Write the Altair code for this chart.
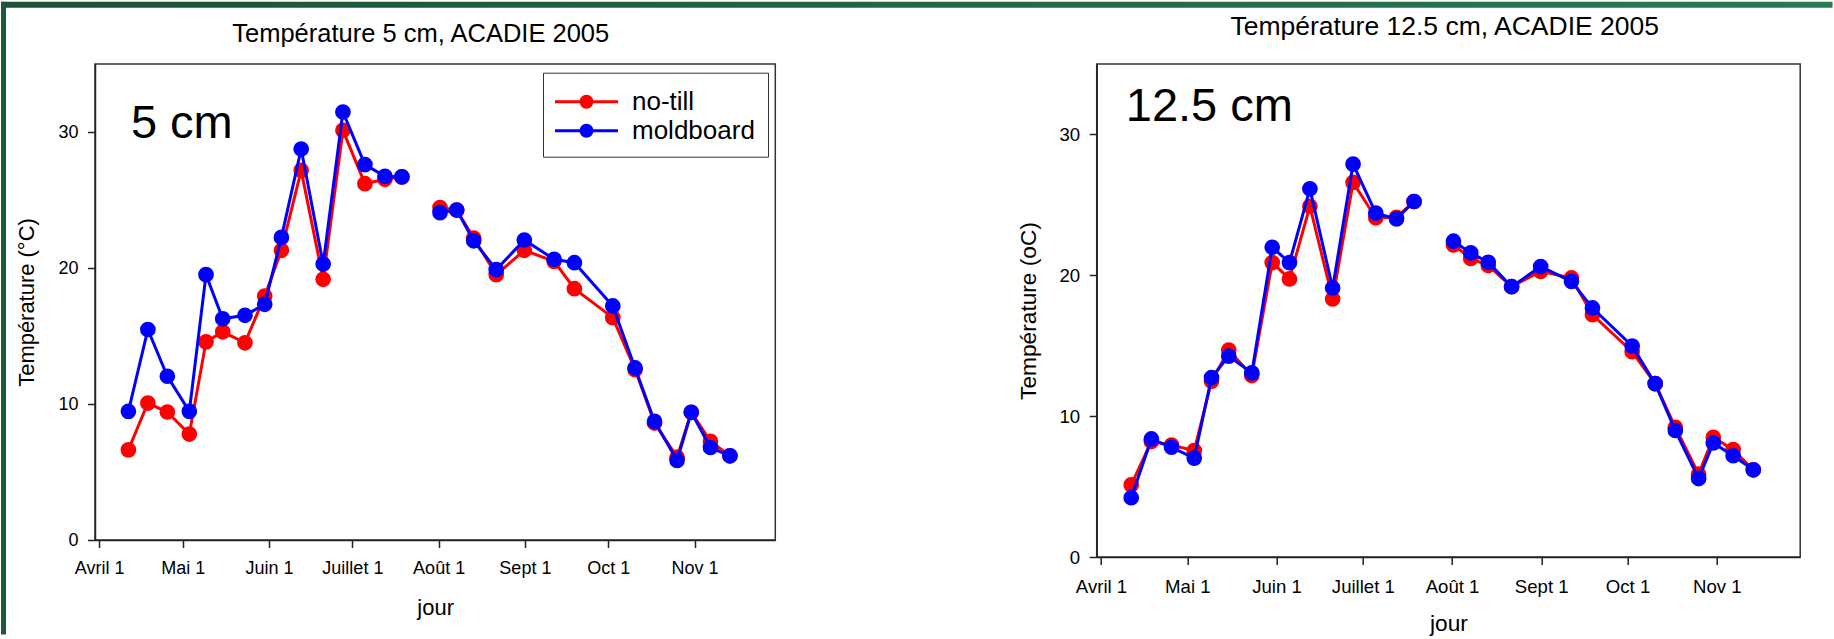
import json
import altair as alt
import pandas as pd

FONT = "Liberation Sans, Arial, Helvetica, sans-serif"

# ---- data ----
jours = [101.5, 108.5, 115.5, 123.4, 129.4, 135.4, 143.4, 150.5, 156.5, 163.6,
         171.5, 178.6, 186.5, 193.7, 199.8, 213.5, 219.5, 225.6, 233.7, 243.8,
         254.5, 261.8, 275.6, 283.6, 290.6, 298.7, 303.8, 310.7, 317.7]
# measurement campaign (line is broken between the two)
periode = [0] * 15 + [1] * 14

notill_5 = [6.63, 10.07, 9.41, 7.79, 14.57, 15.31, 14.5, 17.94, 21.3, 27.18,
            19.17, 30.12, 26.2, 26.52, 26.7, 24.44, 24.26, 22.2, 19.51, 21.3,
            20.49, 18.48, 16.35, 12.53, 8.6, 6.09, 9.39, 7.25, 6.19]
moldboard_5 = [9.46, 15.48, 12.04, 9.46, 19.51, 16.27, 16.52, 17.33, 22.25, 28.75,
               20.29, 31.47, 27.6, 26.74, 26.7, 24.07, 24.26, 22.0, 19.88, 22.06,
               20.64, 20.39, 17.21, 12.65, 8.72, 5.85, 9.39, 6.8, 6.19]

notill_125 = [5.12, 8.2, 7.95, 7.55, 12.48, 14.69, 12.88, 20.9, 19.74, 24.9,
              18.32, 26.59, 24.08, 24.12, 25.24, 22.16, 21.2, 20.69, 19.19, 20.28,
              19.81, 17.2, 14.57, 12.31, 9.21, 5.88, 8.5, 7.62, 6.19]
moldboard_125 = [4.21, 8.38, 7.79, 7.02, 12.74, 14.26, 13.07, 21.99, 20.9, 26.14,
                 19.1, 27.89, 24.41, 24.0, 25.24, 22.42, 21.59, 20.92, 19.19, 20.62,
                 19.57, 17.68, 14.98, 12.31, 8.98, 5.57, 8.1, 7.19, 6.19]

series_names = ["no-till", "moldboard"]
series_colors = ["#ff0000", "#0000ff"]

tick_days = [91, 121, 152, 182, 213, 244, 274, 305]
tick_names = ["Avril 1", "Mai 1", "Juin 1", "Juillet 1", "Août 1", "Sept 1", "Oct 1", "Nov 1"]
y_ticks = [0, 10, 20, 30]

x_domain = [89.5, 334]
y_domain = [0, 35]

label_expr = (json.dumps(tick_names, ensure_ascii=False) +
              "[indexof(" + json.dumps(tick_days) + ", datum.value)]")

# legend symbol: a line with a filled dot
LEG_PATH = ("M-1.1724,0L3.1724,0"
            "M1.3793,0A0.3793,0.3793,0,1,1,0.6207,0A0.3793,0.3793,0,1,1,1.3793,0Z")


def make_frame(a, b):
    rows = []
    for name, vals in zip(series_names, (a, b)):
        for d, v, s in zip(jours, vals, periode):
            rows.append({"jour": d, "temp": v, "serie": name, "seg": s})
    return pd.DataFrame(rows)


def text_layer(x, y, txt, pos, size, align):
    df = pd.DataFrame({"jour": [pos[0]], "temp": [pos[1]], "t": [txt]})
    return alt.Chart(df).mark_text(
        align=align, baseline="alphabetic", fontSize=size, font=FONT, color="black"
    ).encode(x=x, y=y, text="t:N")


def panel(df, w, h, fs, title, title_pos, t_size, ytitle, tag, tag_pos,
          y_pad, x_pad, x_tpad, with_legend, deco):
    ax_x = alt.Axis(values=tick_days, labelExpr=label_expr, title="jour", grid=False,
                    tickSize=7.5, labelPadding=x_pad, titlePadding=x_tpad,
                    labelFontSize=fs, titleFontSize=fs * 1.22, labelFlush=False,
                    labelOverlap=False)
    ax_y = alt.Axis(values=y_ticks, title=ytitle, grid=False, tickSize=7.5,
                    labelPadding=9.5, titlePadding=y_pad, labelFontSize=fs,
                    titleFontSize=fs * 1.22, format="d")
    x = alt.X("jour:Q", scale=alt.Scale(domain=x_domain, nice=False, zero=False), axis=ax_x)
    y = alt.Y("temp:Q", scale=alt.Scale(domain=y_domain, nice=False, zero=False), axis=ax_y)

    layers = []
    if deco:
        one = pd.DataFrame({"k": [0]})
        grad = alt.LinearGradient(
            gradient="linear",
            stops=[alt.GradientStop(color="#1b5236", offset=0),
                   alt.GradientStop(color="#287a50", offset=1)],
            x1=0, x2=1, y1=0, y2=0)
        layers.append(alt.Chart(one).mark_rect(color=grad).encode(
            x=alt.value(-94), x2=alt.value(1737.5), y=alt.value(-62.3), y2=alt.value(-56.3)))
        layers.append(alt.Chart(one).mark_rect(color="#1d5a3c").encode(
            x=alt.value(-94), x2=alt.value(-89), y=alt.value(-62.3), y2=alt.value(570.5)))

    cscale = alt.Scale(domain=series_names, range=series_colors)
    leg = alt.Legend(orient="none", legendX=448, legendY=8.7, title=None,
                     symbolType=LEG_PATH, symbolSize=841, symbolStrokeWidth=3,
                     labelFontSize=26, labelFont=FONT, labelColor="black",
                     labelOffset=44, padding=13, rowPadding=0,
                     strokeColor="#333333", fillColor="white")
    for name, color in zip(series_names, series_colors):
        base = alt.Chart(df).transform_filter(alt.datum.serie == name)
        line = base.mark_line(color=color, strokeWidth=3).encode(
            x=x, y=y, detail="seg:N")
        if with_legend:
            pts = base.mark_point(filled=True, size=161, strokeWidth=3, opacity=1).encode(
                x=x, y=y,
                fill=alt.Fill("serie:N", scale=cscale, legend=leg),
                stroke=alt.Stroke("serie:N", scale=cscale, legend=leg))
        else:
            pts = base.mark_point(filled=True, size=161, strokeWidth=3, opacity=1,
                                  fill=color, stroke=color).encode(x=x, y=y)
        layers += [line, pts]

    layers.append(text_layer(x, y, tag, tag_pos, 47, "left"))
    layers.append(text_layer(x, y, title, title_pos, t_size, "center"))

    return alt.layer(*layers).properties(width=w, height=h)


left = panel(make_frame(notill_5, moldboard_5), 680.3, 476, 18,
             "Température 5 cm, ACADIE 2005", (206.56, 36.59), 25.5,
             "Température (°C)", "5 cm", (102.4, 29.56),
             19, 12, 20.3, True, True)
right = panel(make_frame(notill_125, moldboard_125), 703.5, 493, 18.6,
              "Température 12.5 cm, ACADIE 2005", (210.45, 37.08), 26.5,
              "Température (oC)", "12.5 cm", (99.6, 30.92),
              19, 12.5, 17, False, False)

chart = alt.hconcat(left, right, spacing=320.7, bounds="flush").resolve_scale(
    fill="independent", stroke="independent"
).properties(background="white", padding=0).configure_axis(
    domainColor="#222222", domainWidth=1.5, tickColor="#222222", tickWidth=1.5,
    labelColor="black", titleColor="black", labelFont=FONT, titleFont=FONT,
    titleFontWeight="normal"
).configure_view(stroke="#333333", strokeWidth=1.5)

chart.save("out.html", embed_options={"renderer": "svg", "actions": False})
